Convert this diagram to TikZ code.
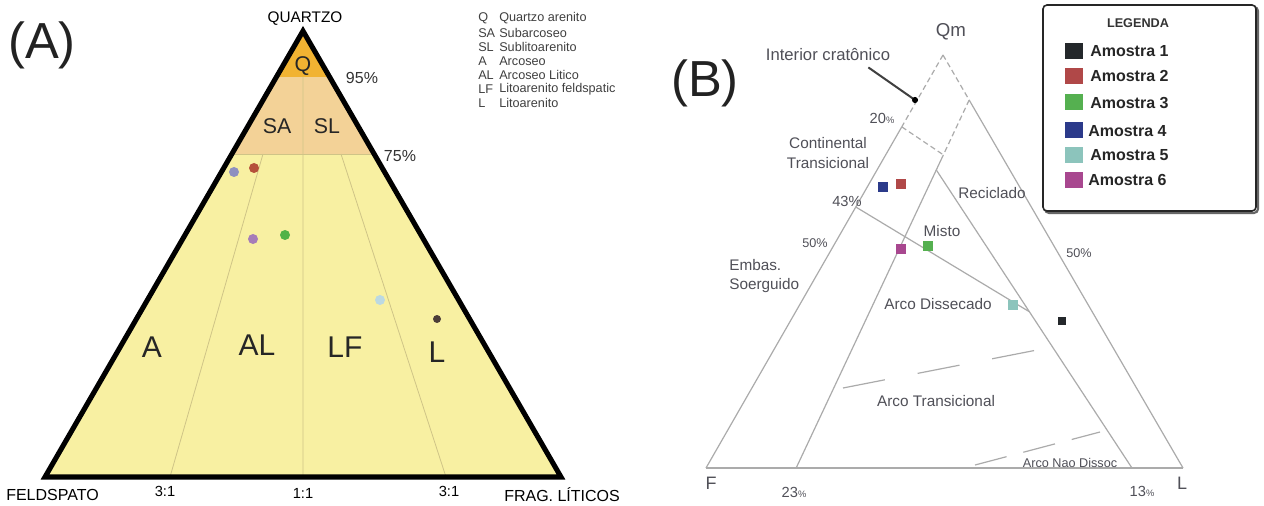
\documentclass[tikz,border=0pt]{standalone}
\usepackage{fontspec}
\setmainfont{Liberation Sans}
\usetikzlibrary{calc}

\newcommand{\fsz}[1]{\fontsize{#1}{#1}\selectfont}

\definecolor{qorange}{HTML}{F1B332}
\definecolor{satan}{HTML}{F3D297}
\definecolor{paleyel}{HTML}{F8F0A2}
\definecolor{gridbeige}{HTML}{CFC487}
\definecolor{gridgray}{HTML}{ABABAB}
\definecolor{txtB}{HTML}{505058}
\definecolor{panelgray}{HTML}{222222}
% sample colours, panel A
\definecolor{aone}{HTML}{4B3D38}
\definecolor{atwo}{HTML}{B5503A}
\definecolor{athree}{HTML}{52B347}
\definecolor{afour}{HTML}{8E90C0}
\definecolor{afive}{HTML}{BCD9E2}
\definecolor{asix}{HTML}{A67DB8}
% sample colours, panel B
\definecolor{bone}{HTML}{24282B}
\definecolor{btwo}{HTML}{B04848}
\definecolor{bthree}{HTML}{55B050}
\definecolor{bfour}{HTML}{2B3A8A}
\definecolor{bfive}{HTML}{8CC4BC}
\definecolor{bsix}{HTML}{A8478F}

\begin{document}
\begin{tikzpicture}[x=0.75pt, y=-0.75pt, every node/.style={inner sep=0pt, font=\fsz{11}},
    panel/.style={font=\fsz{38}, text=panelgray},
    regA/.style={font=\fsz{22.5}, text=black!85},
    subA/.style={font=\fsz{16}, text=black!85},
    pctA/.style={font=\fsz{12}, text=black!80},
    legA/.style={font=\fsz{9.5}, text=black!75, anchor=west},
    dotA/.style={circle, minimum size=7.5pt},
    gridA/.style={draw=gridbeige, line width=0.6pt},
    edgeB/.style={draw=gridgray, line width=0.9pt},
    apexdash/.style={dash pattern=on 4pt off 2.5pt},
    labB/.style={font=\fsz{11.5}, text=txtB},
    pctB/.style={font=\fsz{11}, text=txtB},
    sqB/.style={rectangle, minimum width=7.5pt, minimum height=7pt},
    legsq/.style={rectangle, minimum width=13.5pt, minimum height=12.5pt},
    legtxt/.style={font=\bfseries\fsz{12}, text=black!85, anchor=west}]
  \fill[white] (0,0) rectangle (1264,506);
  \useasboundingbox (0,0) rectangle (1264,506);

  % ---------- (A) QFL triangle ----------
  \node[panel] (tagA) at (42,45) {(A)};
  \coordinate (Qa) at (303,31);
  \coordinate (Fa) at (45,477);
  \coordinate (La) at (561,477);
  \coordinate (q95l) at ($(Qa)!0.103!(Fa)$);
  \coordinate (q95r) at ($(Qa)!0.103!(La)$);
  \coordinate (q75l) at ($(Qa)!0.276!(Fa)$);
  \coordinate (q75r) at ($(Qa)!0.276!(La)$);
  % coloured fields
  \fill[paleyel] (q75l) -- (q75r) -- (La) -- (Fa) -- cycle;
  \fill[satan] (q95l) -- (q95r) -- (q75r) -- (q75l) -- cycle;
  \fill[qorange] (Qa) -- (q95r) -- (q95l) -- cycle;
  % 75% line and ratio lines
  \draw[gridA] (q75l) -- (q75r);
  \coordinate (m95) at ($(q95l)!0.5!(q95r)$);
  \coordinate (m11) at ($(Fa)!0.5!(La)$);
  \draw[gridA] (m95) -- (m11);
  \coordinate (l31t) at (263,154);
  \coordinate (l31b) at (170,477);
  \coordinate (r31t) at (341,154);
  \coordinate (r31b) at (446,477);
  \draw[gridA] (l31t) -- (l31b);
  \draw[gridA] (r31t) -- (r31b);
  % outline
  \draw[line width=3.8pt, black] (Qa) -- (Fa) -- (La) -- cycle;
  \node (quartzo) at (305,19) {\fsz{11.5}QUARTZO};
  \node[subA] (lq) at (303,66) {Q};
  \node[subA] (lsa) at (277,126) {SA};
  \node[subA] (lsl) at (327,126) {SL};
  \node[pctA] (p95) at (362,78) {95\%};
  \node[pctA] (p75) at (400,156) {75\%};
  \node[regA] (la) at (152,347) {A};
  \node[regA] (lal) at (257,345) {AL};
  \node[regA] (llf) at (345,347) {LF};
  \node[regA] (ll) at (437,352) {L};
  \node[font=\fsz{11}] (r31l) at (165,491) {3:1};
  \node[font=\fsz{11}] (r11) at (303,493) {1:1};
  \node[font=\fsz{11}] (r31r) at (449,491) {3:1};
  \node[font=\fsz{12}, anchor=east] (feld) at (99,495) {FELDSPATO};
  \node[font=\fsz{12}, anchor=west] (frag) at (504,495) {FRAG. LÍTICOS};
  % samples
  \node[dotA, fill=afour] (a4) at (234,172) {};
  \node[dotA, fill=atwo] (a2) at (254,168) {};
  \node[dotA, fill=asix] (a6) at (253,239) {};
  \node[dotA, fill=athree] (a3) at (285,235) {};
  \node[dotA, fill=afive] (a5) at (380,300) {};
  \node[dotA, fill=aone, minimum size=6pt] (a1) at (437,319) {};
  % key to fields
  \node[legA] (kq) at (478,18) {Q};
  \node[legA] at (499,18) {Quartzo arenito};
  \node[legA] (ksa) at (478,33) {SA};
  \node[legA] at (499,33) {Subarcoseo};
  \node[legA] (ksl) at (478,47) {SL};
  \node[legA] at (499,47) {Sublitoarenito};
  \node[legA] (ka) at (478,61) {A};
  \node[legA] at (499,61) {Arcoseo};
  \node[legA] (kal) at (478,75) {AL};
  \node[legA] at (499,75) {Arcoseo Litico};
  \node[legA] (klf) at (478,89) {LF};
  \node[legA] at (499,89) {Litoarenito feldspatic};
  \node[legA] (kl) at (478,103) {L};
  \node[legA] at (499,103) {Litoarenito};

  % ---------- (B) QmFLt provenance triangle ----------
  \node[panel] (tagB) at (705,83) {(B)};
  \coordinate (Qm) at (943,55);
  \coordinate (Fb) at (706,468);
  \coordinate (Lb) at (1183,468);
  \coordinate (p20) at ($(Qm)!0.174!(Fb)$);
  \coordinate (p43) at ($(Qm)!0.368!(Fb)$);
  \coordinate (r20) at ($(Qm)!0.109!(Lb)$);
  \coordinate (p23) at ($(Fb)!0.189!(Lb)$);
  \coordinate (p13) at ($(Fb)!0.893!(Lb)$);
  \coordinate (jc) at ($(r20)!0.149!(p23)$);
  \coordinate (jr) at ($(r20)!0.19!(p23)$);
  \coordinate (je) at ($(jr)!0.476!(p13)$);
  % sides
  \draw[edgeB] (Fb) -- (Lb);
  \draw[edgeB] (p20) -- (Fb);
  \draw[edgeB] (r20) -- (Lb);
  \draw[edgeB, apexdash] (Qm) -- (p20);
  \draw[edgeB, apexdash] (Qm) -- (r20);
  % field boundaries
  \draw[edgeB, apexdash] (p20) -- (jc);
  \draw[edgeB, apexdash] (r20) -- (jc);
  \draw[edgeB] (jc) -- (p23);
  \draw[edgeB] (jr) -- (p13);
  \draw[edgeB] (p43) -- (je);
  \coordinate (ta) at (843,388);
  \coordinate (tb) at (1037,350);
  \draw[edgeB, dash pattern=on 32pt off 25pt] (ta) -- (tb);
  \coordinate (na) at (975,465);
  \coordinate (nb) at (1100,432);
  \draw[edgeB, dash pattern=on 24.5pt off 13pt] (na) -- (nb);
  % labels
  \node[font=\fsz{14}, text=txtB] (lqm) at (951,32) {Qm};
  \node[font=\fsz{13.5}, text=txtB] (lf) at (711,483) {F};
  \node[font=\fsz{13.5}, text=txtB] (llb) at (1182,483) {L};
  \node[font=\fsz{12.5}, text=txtB] (crat) at (828,55) {Interior cratônico};
  \coordinate (cratpt) at (915,100);
  \draw[line width=1.5pt, black!75] ($(crat.south east)+(-22,6)$) -- (cratpt);
  \fill[black] (cratpt) circle (2.3pt);
  \node[pctB] (l20) at (882,118) {20{\fsz{7}\%}};
  \node[pctB] (l43) at (847,201) {43\%};
  \node[pctB, font=\fsz{9.5}] (l50l) at (815,243) {50\%};
  \node[pctB, font=\fsz{9.5}] (l50r) at (1079,253) {50\%};
  \node[pctB] (l23) at (794,492) {23{\fsz{7}\%}};
  \node[pctB] (l13) at (1142,491) {13{\fsz{7}\%}};
  \node[labB, align=center] (ctrans) at (828,153) {Continental\\[3pt]Transicional};
  \node[labB] (recic) at (992,193) {Reciclado};
  \node[labB] (misto) at (942,231) {Misto};
  \node[labB, align=left, anchor=west] (embas) at (729,276) {Embas.\\[3pt]Soerguido};
  \node[labB] (arcod) at (938,304) {Arco Dissecado};
  \node[labB] (arcot) at (936,401) {Arco Transicional};
  \node[font=\fsz{9.5}, text=txtB] (arcon) at (1070,463) {Arco Nao Dissoc};
  % samples
  \node[sqB, fill=bfour] (b4) at (883,187) {};
  \node[sqB, fill=btwo] (b2) at (901,184) {};
  \node[sqB, fill=bsix] (b6) at (901,249) {};
  \node[sqB, fill=bthree] (b3) at (928,246) {};
  \node[sqB, fill=bfive] (b5) at (1013,305) {};
  \node[sqB, fill=bone, minimum width=6pt, minimum height=6pt] (b1) at (1062,321) {};

  % ---------- legend ----------
  \draw[black!60, line width=1.6pt, rounded corners=3pt] (1045,7) rectangle (1258,213);
  \draw[black!85, fill=white, line width=1.2pt, rounded corners=3pt] (1043,5) rectangle (1256,211);
  \node[font=\bfseries\fsz{9.5}, text=black!80] (legenda) at (1138,23) {LEGENDA};
  \node[legsq, fill=bone] (k1) at (1074,51) {};
  \node[legtxt] (t1) at (1090,51) {Amostra 1};
  \node[legsq, fill=btwo] (k2) at (1074,76) {};
  \node[legtxt] (t2) at (1090,76) {Amostra 2};
  \node[legsq, fill=bthree] (k3) at (1074,102) {};
  \node[legtxt] (t3) at (1090,103) {Amostra 3};
  \node[legsq, fill=bfour] (k4) at (1074,130) {};
  \node[legtxt] (t4) at (1088,131) {Amostra 4};
  \node[legsq, fill=bfive] (k5) at (1074,155) {};
  \node[legtxt] (t5) at (1090,155) {Amostra 5};
  \node[legsq, fill=bsix] (k6) at (1074,180) {};
  \node[legtxt] (t6) at (1088,180) {Amostra 6};
\end{tikzpicture}
\end{document}
